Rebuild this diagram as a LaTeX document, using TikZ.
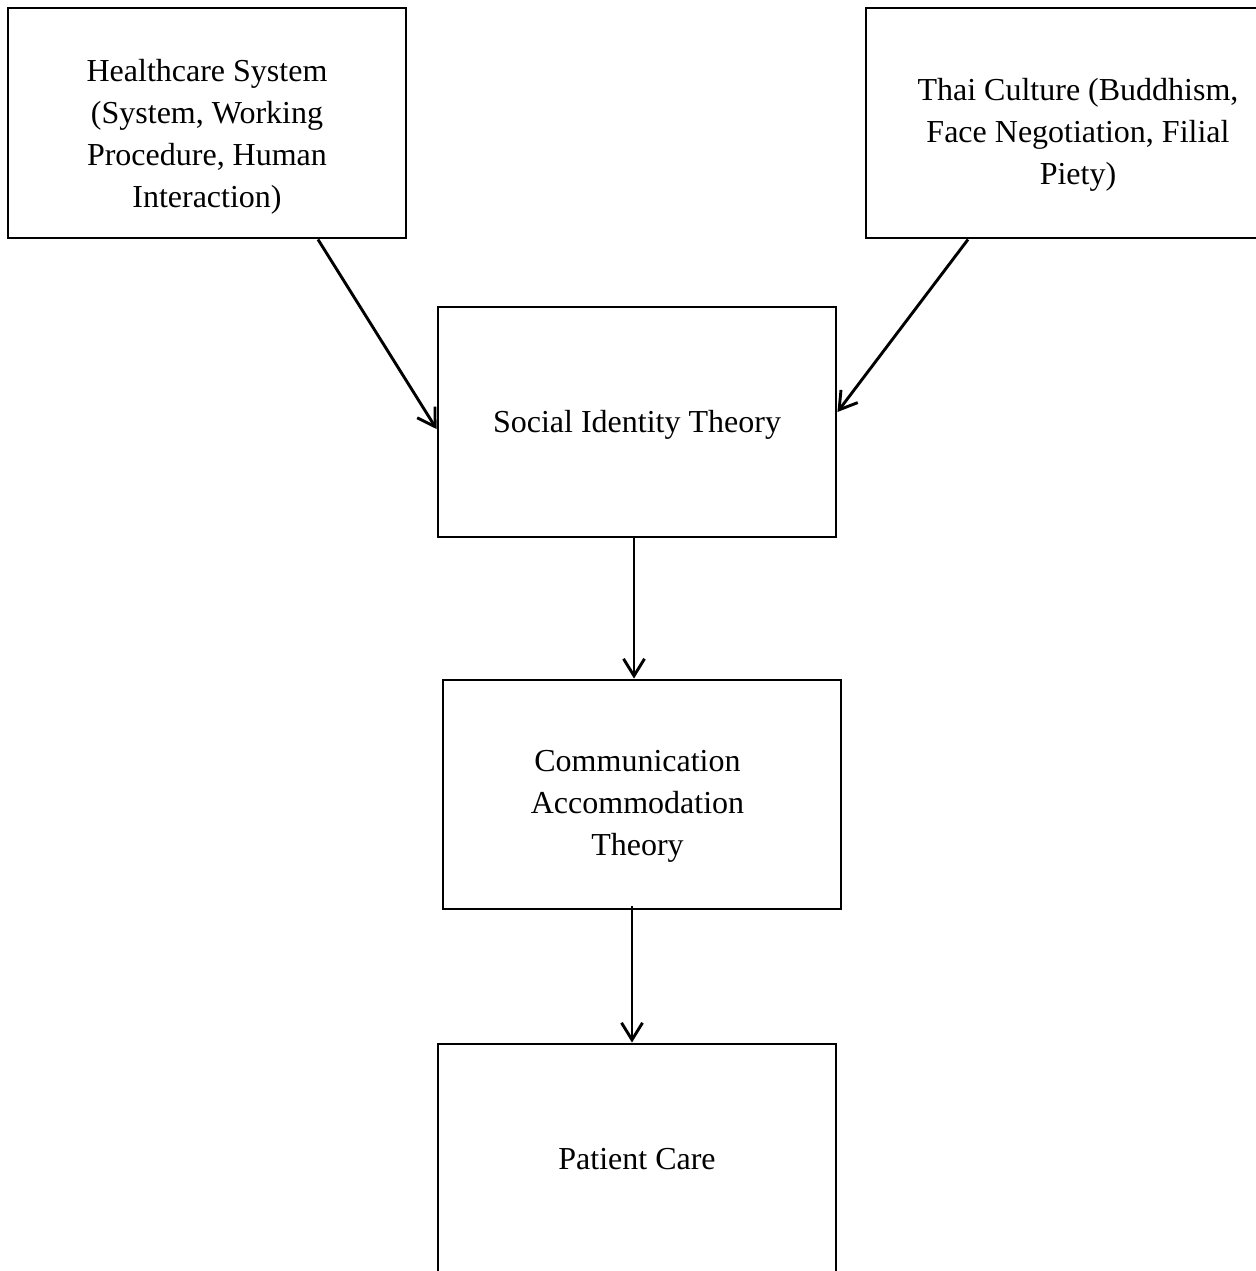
\documentclass[tikz,border=0pt]{standalone}
\usepackage{fontspec}
\setmainfont{Liberation Serif}
\usetikzlibrary{arrows.meta}

\begin{document}
\begin{tikzpicture}[
  x=0.5pt, y=-0.5pt,
  every node/.style={
    font=\fontsize{16}{21}\selectfont
  },
  box/.style={
    draw, rectangle, line width=1.45pt, inner sep=0pt,
    minimum width=199pt, minimum height=115pt
  },
  txt/.style={
    align=center, inner sep=0pt
  },
  arr/.style={
    line width=1.45pt, -{Straight Barb[length=8.5pt,width=10.5pt]}
  }
  ]
  \useasboundingbox (0,0) rectangle (1256,1271);
  % boxes
  \node[box] (hs) at (207,123) {};
  \node[box, minimum width=212pt] (tc) at (1078,123) {};
  \node[box] (sit) at (637,422) {};
  \node[box, minimum height=114.5pt] (cat) at (642,794.5) {};
  \node[box, minimum height=130pt] (pc) at (637,1174) {};
  % texts
  \node[txt] (hstext) at (207,137) {Healthcare System\\(System, Working\\Procedure, Human\\Interaction)};
  \node[txt] (tctext) at (1078,134.5) {Thai Culture (Buddhism,\\Face Negotiation, Filial\\Piety)};
  \node[txt] (sittext) at (637,424.5) {Social Identity Theory};
  \node[txt] (cattext) at (637.5,806) {Communication\\Accommodation\\Theory};
  \node[txt] (pctext) at (637,1159) {Patient Care};
  % arrows
  \draw[arr] ([xshift=55.5pt]hs.south) -- ([yshift=-3.5pt]sit.west);
  \draw[arr] ([xshift=-55pt]tc.south) -- ([yshift=5pt]sit.east);
  \draw[arr] ([xshift=-1.5pt]sit.south) -- ([xshift=-4pt]cat.north);
  \draw[arr] ([xshift=-5pt,yshift=2pt]cat.south) -- ([xshift=-2.5pt]pc.north);
\end{tikzpicture}
\end{document}
